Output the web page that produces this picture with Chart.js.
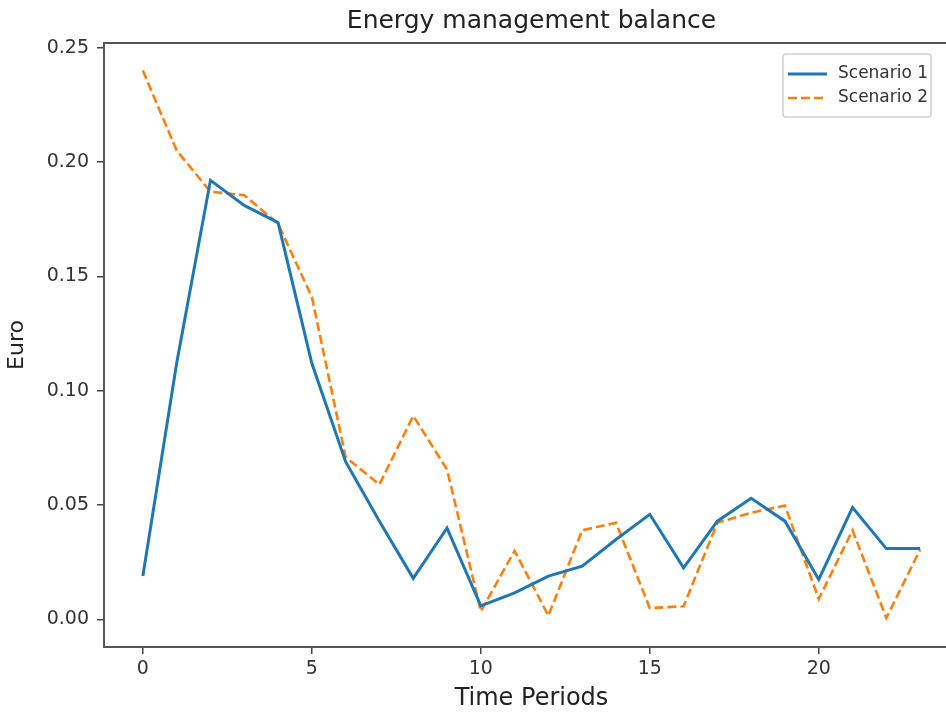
<!DOCTYPE html>
<html lang="en">
<head>
    <meta charset="UTF-8">
    <title>Energy management balance</title>
    <script src="https://cdn.jsdelivr.net/npm/chart.js"></script>
    <style>
        html, body { margin: 0; padding: 0; background: #fff; overflow: hidden; }
        #wrap { width: 980px; height: 713px; }
    </style>
</head>
<body>
    <div id="wrap"><canvas id="balanceChart"></canvas></div>
    <script>
        // time periods 0..23 and the balance (in Euro) for each scenario
        const periods = [0, 1, 2, 3, 4, 5, 6, 7, 8, 9, 10, 11, 12, 13, 14, 15, 16, 17, 18, 19, 20, 21, 22, 23];
        const scenario1 = [0.019, 0.112, 0.192, 0.181, 0.1735, 0.112, 0.069, 0.043, 0.018, 0.040, 0.006, 0.0117,
                           0.019, 0.0233, 0.035, 0.046, 0.0226, 0.043, 0.053, 0.043, 0.0175, 0.049, 0.031, 0.031];
        const scenario2 = [0.240, 0.205, 0.187, 0.1855, 0.173, 0.141, 0.071, 0.059, 0.089, 0.0656, 0.0036, 0.030,
                           0.0017, 0.039, 0.0423, 0.005, 0.0058, 0.0423, 0.0467, 0.0498, 0.009, 0.039, 0.0007, 0.0306];
        const xTicks = [0, 5, 10, 15, 20];
        const yTicks = [0.00, 0.05, 0.10, 0.15, 0.20, 0.25];
        const seriesNames = ['Scenario 1', 'Scenario 2'];

        const BLUE = '#1f77b4';
        const ORANGE = '#ff7f0e';
        const FONT = "'DejaVu Sans', sans-serif";

        const toPoints = vals => periods.map((p, i) => ({ x: p, y: vals[i] }));

        // box round the axes + legend in the upper right corner
        const frameAndLegend = {
            id: 'frameAndLegend',
            afterDatasetsDraw(chart) {
                const { ctx, chartArea: a } = chart;
                ctx.save();
                ctx.strokeStyle = '#555';
                ctx.lineWidth = 2;
                ctx.strokeRect(a.left, a.top, a.right - a.left, a.bottom - a.top);

                const bx = a.right - 176, by = a.top + 11, bw = 148, bh = 63;
                ctx.fillStyle = 'rgba(255,255,255,0.85)';
                ctx.strokeStyle = '#d0d0d0';
                ctx.lineWidth = 1.5;
                ctx.beginPath();
                ctx.roundRect(bx, by, bw, bh, 3);
                ctx.fill();
                ctx.stroke();

                const rows = [
                    { color: BLUE, dash: [], width: 3 },
                    { color: ORANGE, dash: [9, 4], width: 2.6 }
                ];
                ctx.font = '17px ' + FONT;
                ctx.textBaseline = 'middle';
                rows.forEach((r, i) => {
                    const y = by + 20 + i * 24;
                    ctx.strokeStyle = r.color;
                    ctx.lineWidth = r.width;
                    ctx.setLineDash(r.dash);
                    ctx.beginPath();
                    ctx.moveTo(bx + 5, y);
                    ctx.lineTo(bx + 44, y);
                    ctx.stroke();
                    ctx.setLineDash([]);
                    ctx.fillStyle = '#333';
                    ctx.fillText(seriesNames[i], bx + 55, y);
                });
                ctx.restore();
            }
        };

        new Chart(document.getElementById('balanceChart'), {
            type: 'line',
            data: {
                datasets: [{
                    label: seriesNames[0],
                    data: toPoints(scenario1),
                    borderColor: BLUE,
                    borderWidth: 3,
                    pointRadius: 0,
                    tension: 0,
                    fill: false
                }, {
                    label: seriesNames[1],
                    data: toPoints(scenario2),
                    borderColor: ORANGE,
                    borderWidth: 2.6,
                    borderDash: [9, 4],
                    pointRadius: 0,
                    tension: 0,
                    fill: false
                }]
            },
            options: {
                responsive: true,
                maintainAspectRatio: false,
                animation: false,
                layout: { padding: { left: 0, right: 21, top: 0, bottom: 0 } },
                plugins: {
                    legend: { display: false },
                    tooltip: { enabled: false },
                    title: {
                        display: true,
                        text: 'Energy management balance',
                        fullSize: false,
                        color: '#222',
                        font: { family: FONT, size: 25, weight: 'normal' },
                        padding: { top: 6, bottom: 7 }
                    }
                },
                scales: {
                    x: {
                        type: 'linear',
                        min: -1.15,
                        max: 24.15,
                        afterBuildTicks: s => { s.ticks = xTicks.map(v => ({ value: v })); },
                        afterFit: s => { s.height = 66; },
                        border: { display: false },
                        grid: { drawOnChartArea: false, drawTicks: true, tickLength: 7, color: '#444', lineWidth: 1.5 },
                        ticks: { color: '#333', padding: 4, font: { family: FONT, size: 19 }, maxRotation: 0,
                                 callback: v => String(v) },
                        title: { display: true, text: 'Time Periods', color: '#222',
                                 font: { family: FONT, size: 24 }, padding: { top: 0, bottom: 0 } }
                    },
                    y: {
                        min: -0.012,
                        max: 0.252,
                        afterBuildTicks: s => { s.ticks = yTicks.map(v => ({ value: v })); },
                        afterFit: s => { s.width = 104; },
                        border: { display: false },
                        grid: { drawOnChartArea: false, drawTicks: true, tickLength: 7, color: '#444', lineWidth: 1.5 },
                        ticks: { color: '#333', padding: 8, font: { family: FONT, size: 19 },
                                 callback: v => v.toFixed(2) },
                        title: { display: true, text: 'Euro', color: '#222',
                                 font: { family: FONT, size: 22 }, padding: { top: 4, bottom: 0 } }
                    }
                }
            },
            plugins: [frameAndLegend]
        });
    </script>
</body>
</html>
